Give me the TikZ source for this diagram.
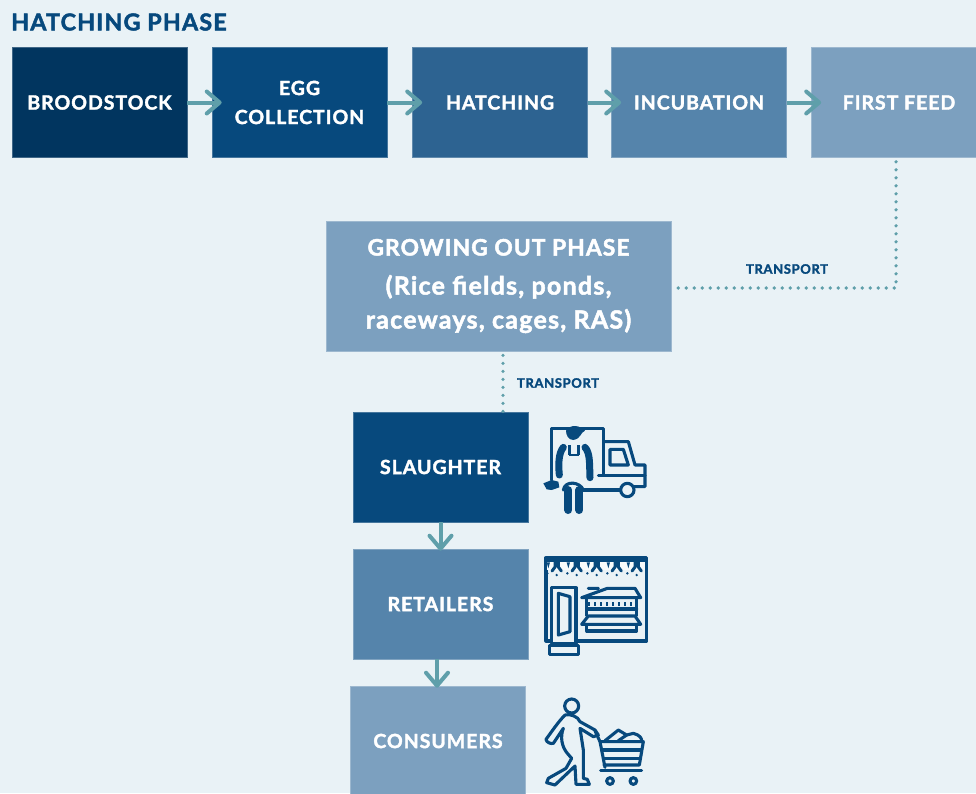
\documentclass[tikz,border=0pt]{standalone}
\usepackage{fontspec}
\setmainfont{Lato}[BoldFeatures={FakeBold=2,LetterSpace=5}]
\usetikzlibrary{arrows.meta}
\definecolor{bgpale}{HTML}{E9F2F6}
\definecolor{navya}{HTML}{01355F}
\definecolor{navyb}{HTML}{07497D}
\definecolor{blueb}{HTML}{2D6391}
\definecolor{bluec}{HTML}{5584AB}
\definecolor{blued}{HTML}{7CA0BF}
\definecolor{tealink}{HTML}{5F9FAA}
\tikzset{
  phasebox/.style={draw=white!25!#1,line width=.6pt,fill=#1,text=white,minimum width=175pt,minimum height=110pt,
    inner sep=0pt,align=center,font=\fontsize{19.5}{29}\bfseries\selectfont},
  flowarrow/.style={draw=tealink,line width=4pt,-{Straight Barb[round,length=13pt,width=22pt,line width=4pt]},shorten >=-10pt},
  downarrow/.style={flowarrow,shorten >=-2pt},
  dotlink/.style={draw=tealink,line width=3.6pt,line cap=round,dash pattern=on 0pt off 8pt},
  tinylabel/.style={text=navyb,font=\fontsize{13}{15}\bfseries\selectfont,inner sep=0pt},
  iconline/.style={draw=navyb,line width=3.1pt,line join=round,line cap=round},
}
\begin{document}
\begin{tikzpicture}[x=1pt,y=-1pt]
  \fill[bgpale] (0,0) rectangle (976,793);
  \clip (0,0) rectangle (976,793);
  \useasboundingbox (0,0) rectangle (976,793);
  % hatching row
  \node[anchor=west,inner sep=0pt,text=navyb,font=\fontsize{23.3}{26}\bfseries\selectfont] (title) at (11,22) {HATCHING PHASE};
  \node[phasebox=navya] (brood) at (99.5,102.5) {BROODSTOCK};
  \node[phasebox=navyb] (egg) at (299.5,102.5) {EGG\\COLLECTION};
  \node[phasebox=blueb] (hatch) at (500,102.5) {HATCHING};
  \node[phasebox=bluec] (incub) at (699,102.5) {INCUBATION};
  \node[phasebox=blued] (feed) at (899,102.5) {FIRST FEED};
  % growing out and below
  \node[phasebox=blued,minimum width=345pt,minimum height=130pt,font=\fontsize{22.7}{34}\bfseries\selectfont] (grow) at (498.5,286)
    {GROWING OUT PHASE\\[5pt]{\fontsize{25}{34}\selectfont (Rice fields, ponds,}\\{\fontsize{25}{34}\selectfont raceways, cages, RAS)}};
  \node[phasebox=navyb] (slaughter) at (440.5,467) {SLAUGHTER};
  \node[phasebox=bluec] (retail) at (440.5,604) {RETAILERS};
  \node[phasebox=blued] (consume) at (438,741) {CONSUMERS};
  \node[tinylabel] (tlabela) at (787,269) {TRANSPORT};
  \node[tinylabel] (tlabelb) at (558,383) {TRANSPORT};
  \begin{scope}
    \draw[flowarrow] (brood) to (egg);
    \draw[flowarrow] (egg) to (hatch);
    \draw[flowarrow] (hatch) to (incub);
    \draw[flowarrow] (incub) to (feed);
    \draw[downarrow] (slaughter) to (retail);
    \draw[downarrow] ([xshift=-3.5pt]retail.south) to ([xshift=-1pt]consume.north);
    \draw[dotlink] ([xshift=-3pt,yshift=-4pt]feed.south) |- ([yshift=-2pt]grow.east);
    \draw[dotlink] ([xshift=4.5pt,yshift=-4pt]grow.south) to ([xshift=62.5pt]slaughter.north);
  \end{scope}
  % truck icon
  \begin{scope}[shift={(530,410)},scale=1/3]
    \draw[iconline] (65,210) -- (65,55) -- (220,55) -- (220,195);
    \draw[iconline] (225,95) -- (295,95) -- (315,165) -- (345,165) -- (345,230) -- (310,230);
    \draw[iconline] (240,118) -- (280,118) -- (295,165) -- (240,165) -- cycle;
    \draw[iconline] (205,197) -- (345,197);
    \draw[iconline] (150,240) -- (270,240);
    \draw[iconline,fill=bgpale] (292,240) circle (20);
    \fill[navyb] (108,62) .. controls (120,42) and (150,45) .. (165,62) .. controls (150,68) and (155,85) .. (130,90) .. controls (115,90) and (108,75) .. (108,62);
    \draw[navyb,line width=7pt,line cap=round] (100,112) .. controls (85,130) and (85,165) .. (88,195);
    \draw[navyb,line width=7pt,line cap=round] (165,112) .. controls (182,130) and (178,170) .. (180,203);
    \draw[navyb,line width=2.4pt] (118,105) -- (118,135) (146,105) -- (146,135) (118,135) -- (146,135);
    \draw[navyb,line width=8pt,line cap=round] (115,240) -- (115,300) (148,240) -- (148,300);
    \draw[iconline] (100,240) .. controls (105,210) and (150,215) .. (160,240);
    \fill[navyb] (40,220) -- (65,210) -- (85,215) -- (88,232) -- (65,240) -- (50,238) -- cycle;
  \end{scope}
  % shop icon
  \begin{scope}[shift={(530,545)},scale=1/3]
    \draw[iconline] (48,38) rectangle (350,288);
    \fill[navyb] (48,38) rectangle (350,50);
    \fill[white!70!bgpale] (52,50) rectangle (346,76);
    \foreach \sx in {80,140,200,260,320} {
      \draw[navyb,line width=3pt,line cap=round,line join=round] (\sx-5,50) -- (\sx-5,66) -- (\sx-14,78) (\sx+5,50) -- (\sx+5,66) -- (\sx+14,78);
      \fill[navyb] (\sx-30,52) -- (\sx-20,52) -- (\sx-25,70) -- cycle;
      \fill[navyb] (\sx,90) circle (4) (\sx-28,85) circle (4);
    }
    \draw[iconline,fill=bgpale] (65,128) rectangle (138,295);
    \draw[iconline] (85,145) -- (120,155) -- (120,260) -- (85,270) -- cycle;
    \draw[iconline,fill=bgpale] (58,302) rectangle (145,328);
    \draw[iconline] (175,130) -- (205,130) (232,130) -- (315,130) -- (332,158) -- (155,158) -- cycle;
    \foreach \dx in {178,196,214,232,250,268,286,304} {
      \fill[navyb] (\dx-3,170) rectangle (\dx+3,184);
    }
    \draw[iconline] (170,160) -- (170,212) (320,160) -- (320,212);
    \draw[iconline] (170,192) -- (320,192);
    \draw[iconline] (175,213) -- (315,213) -- (332,238) -- (155,238) -- cycle;
    \draw[iconline] (170,238) -- (170,258) -- (320,258) -- (320,238);
  \end{scope}
  % shopper icon
  \begin{scope}[shift={(530,690)},scale=1/3]
    \draw[iconline] (125,48) circle (21);
    \draw[iconline] (105,75) .. controls (85,95) and (65,125) .. (48,148) .. controls (50,158) and (62,162) .. (70,160)
      -- (100,115) .. controls (90,140) and (95,170) .. (112,190) -- (125,205) -- (108,235) -- (55,265) -- (50,278) -- (75,285)
      -- (135,228) -- (138,283) -- (178,283) -- (172,268) -- (160,265) -- (160,180) -- (150,115) -- (190,140) -- (205,135) -- (195,120) -- (150,95) .. controls (145,80) and (120,70) .. (105,75);
    \draw[iconline] (195,122) -- (210,155) -- (225,232);
    \draw[iconline] (210,155) -- (340,155) -- (328,225) -- (222,225);
    \draw[iconline] (215,180) -- (332,180) (220,205) -- (330,205);
    \draw[iconline] (212,241) -- (335,241);
    \draw[iconline] (225,152) -- (265,120) -- (290,135) -- (310,130) .. controls (330,135) and (335,145) .. (335,152);
    \draw[iconline] (265,152) -- (290,135);
    \draw[iconline] (240,273) circle (10) (310,273) circle (10);
  \end{scope}
\end{tikzpicture}
\end{document}
